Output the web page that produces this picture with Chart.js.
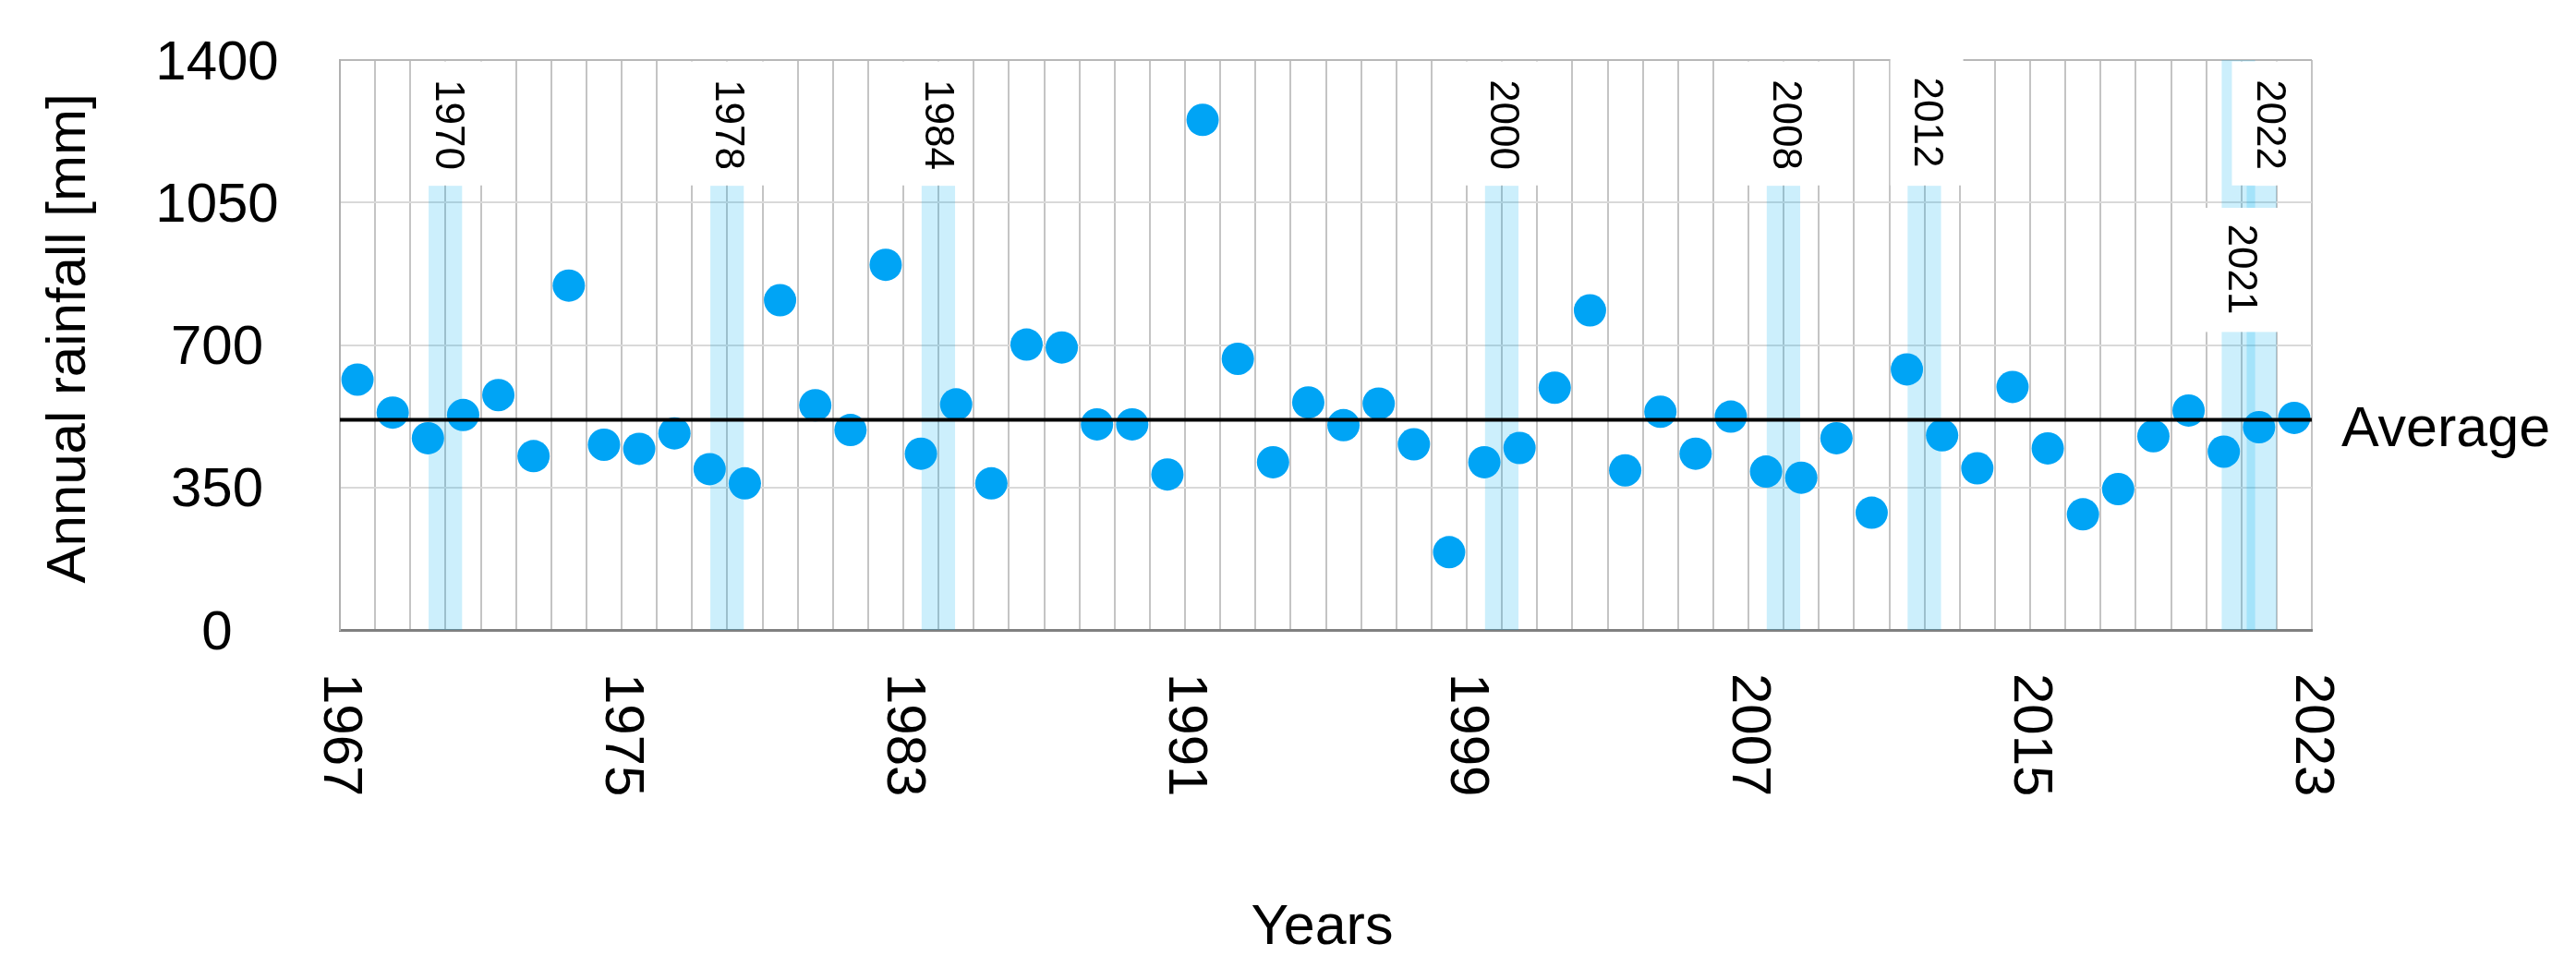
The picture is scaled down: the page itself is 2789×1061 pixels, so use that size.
<!DOCTYPE html>
<html>
<head>
<meta charset="utf-8">
<title>Annual rainfall</title>
<script src="https://cdn.jsdelivr.net/npm/chart.js@4.4.1/dist/chart.umd.min.js"></script>
<style>
    html, body { margin: 0; padding: 0; background: #fff; }
    canvas { display: block; }
</style>
</head>
<body>
<canvas id="myChart" width="2789" height="1061"></canvas>
<script>
// data
var years = [1967, 1968, 1969, 1970, 1971, 1972, 1973, 1974, 1975, 1976,
             1977, 1978, 1979, 1980, 1981, 1982, 1983, 1984, 1985, 1986,
             1987, 1988, 1989, 1990, 1991, 1992, 1993, 1994, 1995, 1996,
             1997, 1998, 1999, 2000, 2001, 2002, 2003, 2004, 2005, 2006,
             2007, 2008, 2009, 2010, 2011, 2012, 2013, 2014, 2015, 2016,
             2017, 2018, 2019, 2020, 2021, 2022];
var rainfall = [615, 534, 471, 528, 577, 427, 846, 455, 445, 483,
                395, 360, 810, 552, 491, 897, 433, 554, 360, 701,
                694, 505, 505, 382, 1253, 666, 412, 559, 503, 556,
                456, 191, 412, 447, 595, 785, 392, 536, 433, 524,
                389, 374, 471, 288, 640, 478, 397, 597, 446, 284,
                346, 476, 539, 438, 498, 521];
var averageRainfall = 516;
var highlightYears = [1970, 1978, 1984, 2000, 2008, 2012, 2021, 2022];
var xTickLabels = [1967, 1975, 1983, 1991, 1999, 2007, 2015, 2023];
var yTickLabels = [0, 350, 700, 1050, 1400];

var FONT = '"Liberation Sans", Arial, sans-serif';
var POINT_BLUE = 'rgb(0, 164, 245)';
var BAND_BLUE = 'rgba(0, 176, 240, 0.2)';

// shaded columns behind the highlighted years (offsets in years, top in mm)
var bandLayout = {
    def: { from: -0.48, to: 0.47, top: 1091 },
    2021: { from: -0.56, to: 0.39, top: 1400 },
    2022: { from: -0.85, to: 0.0, top: 1091 }
};

// white label boxes with the year written top-down
var labelBoxes = [
    { year: 1970, x0: 1969.06, x1: 1971.1, top: 1400, bottom: 1092, textX: 1970.05, textAt: 1352 },
    { year: 1978, x0: 1976.9, x1: 1979.1, top: 1400, bottom: 1092, textX: 1978.0, textAt: 1352 },
    { year: 1984, x0: 1982.9, x1: 1984.9, top: 1400, bottom: 1092, textX: 1983.95, textAt: 1352 },
    { year: 2000, x0: 1998.9, x1: 2001.1, top: 1400, bottom: 1092, textX: 2000.0, textAt: 1352 },
    { year: 2008, x0: 2006.9, x1: 2009.1, top: 1400, bottom: 1092, textX: 2008.03, textAt: 1352 },
    { year: 2012, x0: 2011.03, x1: 2013.1, top: 1460, bottom: 1092, textX: 2012.05, textAt: 1358 },
    { year: 2022, x0: 2020.73, x1: 2022.04, top: 1400, bottom: 1092, textX: 2021.76, textAt: 1352 },
    { year: 2021, x0: 2019.94, x1: 2022.04, top: 1037, bottom: 732, textX: 2020.96, textAt: 997 }
];

function drawRotated(ctx, text, x, y, angle, font, align, baseline) {
    ctx.save();
    ctx.translate(x, y);
    ctx.rotate(angle);
    ctx.font = font;
    ctx.fillStyle = '#000';
    ctx.textAlign = align;
    ctx.textBaseline = baseline;
    ctx.fillText(text, 0, 0);
    ctx.restore();
}

var decorPlugin = {
    id: 'decor',
    beforeDatasetsDraw: function (chart) {
        var ctx = chart.ctx;
        var xs = chart.scales.x;
        var ys = chart.scales.y;
        ctx.save();
        ctx.fillStyle = BAND_BLUE;
        highlightYears.forEach(function (yr) {
            var b = bandLayout[yr] || bandLayout.def;
            var left = xs.getPixelForValue(yr + b.from);
            var right = xs.getPixelForValue(yr + b.to);
            var top = ys.getPixelForValue(b.top);
            var bottom = ys.getPixelForValue(0);
            ctx.fillRect(left, top, right - left, bottom - top);
        });
        labelBoxes.forEach(function (lb) {
            var left = xs.getPixelForValue(lb.x0);
            var right = xs.getPixelForValue(lb.x1);
            var top = ys.getPixelForValue(lb.top);
            var bottom = ys.getPixelForValue(lb.bottom);
            if (lb.top === 1400) top += 1.5;
            ctx.fillStyle = '#fff';
            ctx.fillRect(left, top, right - left, bottom - top);
            drawRotated(ctx, String(lb.year), xs.getPixelForValue(lb.textX), ys.getPixelForValue(lb.textAt),
                Math.PI / 2, '44px ' + FONT, 'left', 'middle');
        });
        ctx.restore();
    },
    afterDraw: function (chart) {
        var ctx = chart.ctx;
        var xs = chart.scales.x;
        var ys = chart.scales.y;
        var area = chart.chartArea;
        ctx.save();
        // y tick labels, centred in their column
        yTickLabels.forEach(function (v) {
            drawRotated(ctx, String(v), 235, ys.getPixelForValue(v) + 4, 0, '60px ' + FONT, 'center', 'middle');
        });
        // x tick labels, written top-down
        xTickLabels.forEach(function (v) {
            drawRotated(ctx, String(v), xs.getPixelForValue(v), area.bottom + 47, Math.PI / 2, '60px ' + FONT, 'left', 'middle');
        });
        drawRotated(ctx, 'Annual rainfall [mm]', 92, (area.top + area.bottom) / 2 - 7, -Math.PI / 2, '60px ' + FONT, 'center', 'alphabetic');
        drawRotated(ctx, 'Years', (area.left + area.right) / 2 - 4, 1022, 0, '61px ' + FONT, 'center', 'alphabetic');
        drawRotated(ctx, 'Average', area.right + 32, ys.getPixelForValue(averageRainfall) + 28, 0, '61px ' + FONT, 'left', 'alphabetic');
        ctx.restore();
    }
};

var points = years.map(function (yr, i) {
    return { x: yr + 0.5, y: rainfall[i] };
});

var ctx = document.getElementById('myChart').getContext('2d');
var myChart = new Chart(ctx, {
    type: 'scatter',
    data: {
        datasets: [{
            label: 'Average',
            data: [{ x: 1967, y: averageRainfall }, { x: 2023, y: averageRainfall }],
            showLine: true,
            borderColor: '#000',
            borderWidth: 4,
            pointRadius: 0,
            order: 0
        }, {
            label: 'Annual rainfall',
            data: points,
            pointRadius: 17.5,
            pointBorderWidth: 0,
            pointBackgroundColor: POINT_BLUE,
            backgroundColor: POINT_BLUE,
            clip: false,
            order: 1
        }]
    },
    options: {
        responsive: false,
        animation: false,
        devicePixelRatio: 1,
        layout: { padding: { left: 368, top: 65, right: 286, bottom: 379 } },
        plugins: { legend: { display: false }, tooltip: { enabled: false } },
        scales: {
            x: {
                type: 'linear',
                min: 1967,
                max: 2023,
                ticks: { display: false, stepSize: 1, autoSkip: false },
                grid: { color: '#c4c4c4', lineWidth: 2, drawTicks: false },
                border: { display: true, color: '#808080', width: 3 }
            },
            y: {
                min: 0,
                max: 1400,
                ticks: { display: false, stepSize: 350 },
                grid: {
                    color: function (c) { return c.tick && c.tick.value === 1400 ? '#b8b8b8' : '#d9d9d9'; },
                    lineWidth: 2,
                    drawTicks: false
                },
                border: { display: true, color: '#b0b0b0', width: 2 }
            }
        }
    },
    plugins: [decorPlugin]
});
</script>
</body>
</html>
